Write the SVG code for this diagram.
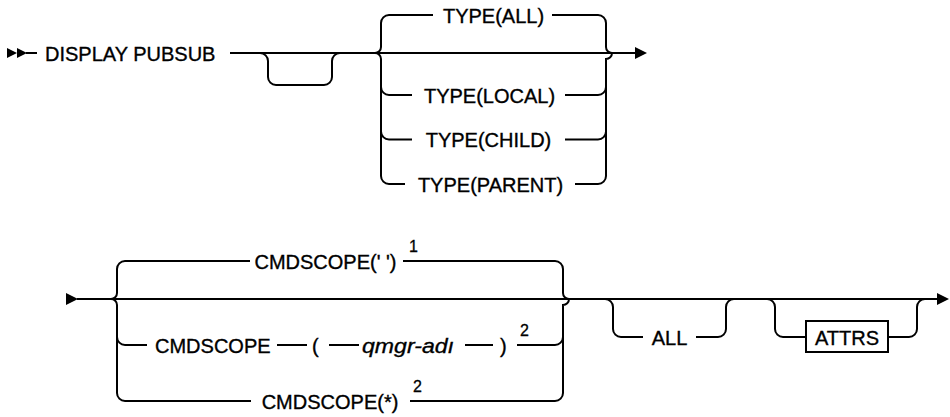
<svg xmlns="http://www.w3.org/2000/svg" width="950" height="417" viewBox="0 0 950 417">
<style>
.ln{fill:none;stroke:#000;stroke-width:2}
.ah{fill:#000;stroke:none}
.t{font-family:"Liberation Sans",Arial,sans-serif;font-size:20px;fill:#000;stroke:#000;stroke-width:0.35}
.m{text-anchor:middle}
.i{font-style:italic}
.s{font-family:"Liberation Sans",Arial,sans-serif;font-size:16px;fill:#000;stroke:#000;stroke-width:0.3}
.box{fill:#fff;stroke:#000;stroke-width:2}
</style>
<rect width="950" height="417" fill="#fff"/>
<g id="connectors">
  <polygon class="ah" points="7,48 17,53 7,58"/>
  <polygon class="ah" points="17,48 27,53 17,58"/>
  <path class="ln" d="M26,53 H37"/>
  <path class="ln" d="M230,53 H636"/>
  <polygon class="ah" points="635,47 647,53 635,59"/>
  <path class="ln" d="M260,53 A8,8 0 0 1 268,61 V77 A8,8 0 0 0 276,85 H324 A8,8 0 0 0 332,77 V61 A8,8 0 0 1 340,53"/>
  <path class="ln" d="M375,53 A6,6 0 0 0 381,47 V23 A8,8 0 0 1 389,15 H433"/>
  <path class="ln" d="M552,15 H598 A8,8 0 0 1 606,23 V47 A6,6 0 0 0 612,53"/>
  <path class="ln" d="M375,53 A6,6 0 0 1 381,59 V176 A8,8 0 0 0 389,184 H405"/>
  <path class="ln" d="M575,184 H598 A8,8 0 0 0 606,176 V59 A6,6 0 0 0 612,53"/>
  <path class="ln" d="M381,87 A8,8 0 0 0 389,95 H412"/>
  <path class="ln" d="M565,95 H598 A8,8 0 0 0 606,87"/>
  <path class="ln" d="M381,131.5 A8,8 0 0 0 389,139.5 H412"/>
  <path class="ln" d="M565,139.5 H598 A8,8 0 0 0 606,131.5"/>
  <polygon class="ah" points="66,293 78,299 66,305"/>
  <path class="ln" d="M77,299 H938"/>
  <polygon class="ah" points="937,293 949,299 937,305"/>
  <path class="ln" d="M111,299 A6,6 0 0 0 117,293 V269 A8,8 0 0 1 125,261 H250"/>
  <path class="ln" d="M403,261 H555 A8,8 0 0 1 563,269 V293 A6,6 0 0 0 569,299"/>
  <path class="ln" d="M111,299 A6,6 0 0 1 117,305 V393 A8,8 0 0 0 125,401 H251"/>
  <path class="ln" d="M410,401 H555 A8,8 0 0 0 563,393 V305 A6,6 0 0 0 569,299"/>
  <path class="ln" d="M117,337 A8,8 0 0 0 125,345 H147"/>
  <path class="ln" d="M277,345 H307"/>
  <path class="ln" d="M329,345 H359"/>
  <path class="ln" d="M465,345 H493"/>
  <path class="ln" d="M517,345 H555 A8,8 0 0 0 563,337"/>
  <path class="ln" d="M605,299 A8,8 0 0 1 613,307 V329 A8,8 0 0 0 621,337 H643"/>
  <path class="ln" d="M696,337 H718 A8,8 0 0 0 726,329 V307 A8,8 0 0 1 734,299"/>
  <path class="ln" d="M767,299 A8,8 0 0 1 775,307 V329 A8,8 0 0 0 783,337 H806"/>
  <path class="ln" d="M888,337 H909 A8,8 0 0 0 917,329 V307 A8,8 0 0 1 925,299"/>
</g>
<g id="display-pubsub"><text class="t" x="45" y="61">DISPLAY PUBSUB</text></g>
<g id="type-all"><text class="t m" x="493.5" y="22.5">TYPE(ALL)</text></g>
<g id="type-local"><text class="t m" x="489.5" y="102.5">TYPE(LOCAL)</text></g>
<g id="type-child"><text class="t m" x="488.5" y="147">TYPE(CHILD)</text></g>
<g id="type-parent"><text class="t m" x="490.5" y="191.5">TYPE(PARENT)</text></g>
<g id="cmdscope-blank"><text class="t m" x="325.5" y="268.5">CMDSCOPE(' ')</text><text class="s" x="409" y="252">1</text></g>
<g id="cmdscope-qmgr">
  <text class="t" x="155" y="352.5">CMDSCOPE</text>
  <text class="t" x="312" y="352.5">(</text>
  <text class="t i" x="362" y="352.5" style="font-size:21px" textLength="92" lengthAdjust="spacingAndGlyphs">qmgr-adı</text>
  <text class="t" x="500" y="352.5">)</text>
  <text class="s" x="520" y="336">2</text>
</g>
<g id="cmdscope-star"><text class="t m" x="330" y="408.5">CMDSCOPE(*)</text><text class="s" x="413" y="392">2</text></g>
<g id="all"><text class="t m" x="669.5" y="344.5">ALL</text></g>
<g id="attrs"><rect class="box" x="806" y="321" width="82" height="31"/><text class="t m" x="847" y="344.5">ATTRS</text></g>
</svg>
